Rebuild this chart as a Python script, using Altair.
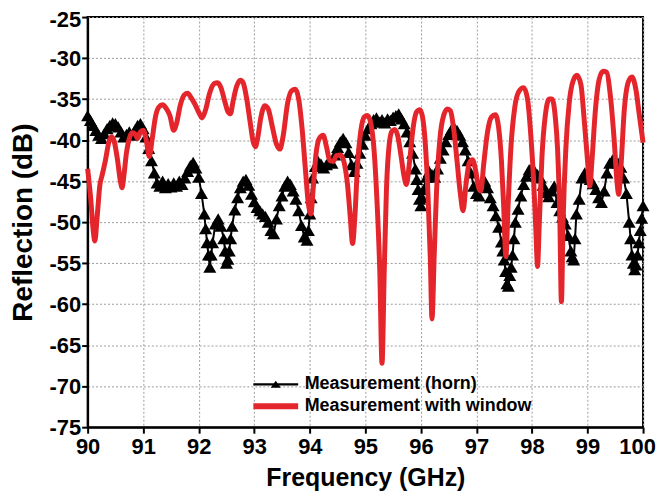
import altair as alt
import pandas as pd

# ---------------- data ----------------
horn_freq = [
    90.00, 90.05, 90.10, 90.15, 90.20, 90.25, 90.30, 90.35, 90.40, 90.45,
    90.50, 90.55, 90.60, 90.65, 90.70, 90.75, 90.80, 90.85, 90.90, 90.95,
    91.00, 91.05, 91.10, 91.15, 91.20, 91.25, 91.30, 91.35, 91.40, 91.45,
    91.50, 91.55, 91.60, 91.65, 91.70, 91.75, 91.80, 91.85, 91.90, 91.95,
    92.00, 92.05, 92.10, 92.15, 92.20, 92.25, 92.30, 92.35, 92.40, 92.45,
    92.50, 92.55, 92.60, 92.65, 92.70, 92.75, 92.80, 92.85, 92.90, 92.95,
    93.00, 93.05, 93.10, 93.15, 93.20, 93.25, 93.30, 93.35, 93.40, 93.45,
    93.50, 93.55, 93.60, 93.65, 93.70, 93.75, 93.80, 93.85, 93.90, 93.95,
    94.00, 94.05, 94.10, 94.15, 94.20, 94.25, 94.30, 94.35, 94.40, 94.45,
    94.50, 94.55, 94.60, 94.65, 94.70, 94.75, 94.80, 94.85, 94.90, 94.95,
    95.00, 95.05, 95.10, 95.15, 95.20, 95.25, 95.30, 95.35, 95.40, 95.45,
    95.50, 95.55, 95.60, 95.65, 95.70, 95.75, 95.80, 95.85, 95.90, 95.95,
    96.00, 96.05, 96.10, 96.15, 96.20, 96.25, 96.30, 96.35, 96.40, 96.45,
    96.50, 96.55, 96.60, 96.65, 96.70, 96.75, 96.80, 96.85, 96.90, 96.95,
    97.00, 97.05, 97.10, 97.15, 97.20, 97.25, 97.30, 97.35, 97.40, 97.45,
    97.50, 97.55, 97.60, 97.65, 97.70, 97.75, 97.80, 97.85, 97.90, 97.95,
    98.00, 98.05, 98.10, 98.15, 98.20, 98.25, 98.30, 98.35, 98.40, 98.45,
    98.50, 98.55, 98.60, 98.65, 98.70, 98.75, 98.80, 98.85, 98.90, 98.95,
    99.00, 99.05, 99.10, 99.15, 99.20, 99.25, 99.30, 99.35, 99.40, 99.45,
    99.50, 99.55, 99.60, 99.65, 99.70, 99.75, 99.80, 99.85, 99.90, 99.95,
    100.00,
]
horn_refl = [
    -37.0, -37.6, -38.2, -38.8, -39.4, -39.8, -39.2, -38.6, -38.2, -37.9,
    -38.0, -38.4, -39.0, -39.6, -39.3, -39.0, -39.4, -38.8, -38.2, -38.0,
    -38.6, -39.6, -41.0, -42.5, -44.0, -45.2, -45.6, -45.0, -45.8, -45.3,
    -45.7, -45.2, -45.6, -45.0, -45.4, -44.6, -43.8, -43.1, -42.7, -43.4,
    -44.5, -46.5, -49.0, -52.5, -55.5, -52.5, -50.2, -49.6, -50.5, -52.0,
    -55.0, -53.5, -50.5, -48.5, -47.0, -45.8, -45.0, -44.8, -45.5, -46.6,
    -47.5, -48.2, -48.6, -49.0, -49.3, -50.0, -51.0, -51.4, -49.6, -48.0,
    -46.8, -45.6, -45.0, -45.4, -46.2, -47.2, -48.6, -50.4, -51.8, -52.2,
    -49.0, -44.6, -43.2, -42.6, -42.9, -43.4, -43.0, -42.6, -42.8, -41.8,
    -40.9, -40.2, -39.8, -40.3, -41.5, -43.0, -43.8, -42.8, -41.6, -40.5,
    -39.4, -38.6, -38.0, -37.5, -37.3, -37.8, -37.5, -37.9, -37.4, -37.6,
    -37.2, -37.0, -36.8, -37.4, -38.0, -39.0, -40.2, -41.6, -43.5, -46.0,
    -48.0, -46.0, -44.5, -43.8, -44.2, -44.5, -43.5, -42.2, -41.2, -40.2,
    -39.3, -38.7, -38.5, -38.8, -39.4, -40.2, -41.2, -42.5, -44.0, -45.6,
    -46.5, -46.8, -45.6, -45.0, -45.8, -47.0, -48.0, -49.2, -50.6, -52.4,
    -54.6, -57.5, -56.5, -54.0, -50.0, -48.4, -46.8, -45.4, -44.4, -43.6,
    -43.4, -43.8, -44.2, -44.6, -45.5, -46.4, -46.9, -46.2, -45.6, -47.6,
    -48.6, -49.4, -50.2, -51.6, -53.5, -54.6, -49.0, -47.2, -44.6, -44.0,
    -44.4, -44.8, -45.3, -46.0, -47.0, -47.6, -46.2, -44.0, -42.8, -42.4,
    -42.6, -42.8, -43.3, -44.6, -46.5, -50.0, -54.0, -55.8, -54.0, -51.0,
    -48.0,
]
# extra horn samples read where the reference stacks triangles on steep slopes
horn_extra_freq = [
    92.125, 92.175, 92.225, 92.475, 92.525, 92.575, 93.975, 94.025,
    95.925, 95.975, 96.025, 97.475, 97.525, 97.575, 97.625, 97.675,
    98.725, 98.775, 99.775, 99.825, 99.875, 99.925, 99.975,
]
horn_extra_refl = [
    -50.8, -54.0, -54.0, -53.5, -54.5, -52.0, -51.0, -47.0,
    -44.8, -47.2, -47.0, -53.5, -56.0, -57.8, -55.5, -52.0,
    -54.2, -52.0, -52.0, -55.0, -55.2, -52.5, -49.5,
]

window_freq = [
    90.00, 90.06, 90.10, 90.13, 90.17, 90.22, 90.26, 90.32, 90.38, 90.43,
    90.48, 90.54, 90.59, 90.62, 90.65, 90.70, 90.75, 90.80, 90.85, 90.90,
    90.95, 91.00, 91.05, 91.11, 91.16, 91.22, 91.28, 91.35, 91.42, 91.48,
    91.55, 91.60, 91.67, 91.74, 91.80, 91.86, 91.93, 92.00, 92.06, 92.12,
    92.20, 92.28, 92.34, 92.40, 92.47, 92.53, 92.57, 92.62, 92.68, 92.75,
    92.80, 92.86, 92.93, 92.98, 93.02, 93.06, 93.12, 93.19, 93.25, 93.33,
    93.40, 93.46, 93.52, 93.60, 93.67, 93.74, 93.80, 93.86, 93.92, 93.97,
    94.02, 94.06, 94.11, 94.17, 94.24, 94.30, 94.36, 94.42, 94.48, 94.56,
    94.62, 94.68, 94.73, 94.77, 94.81, 94.86, 94.92, 94.98, 95.04, 95.10,
    95.16, 95.21, 95.26, 95.30, 95.34, 95.38, 95.43, 95.48, 95.53, 95.58,
    95.64, 95.70, 95.74, 95.79, 95.86, 95.92, 95.98, 96.03, 96.08, 96.13,
    96.17, 96.20, 96.24, 96.28, 96.34, 96.41, 96.48, 96.53, 96.59, 96.65,
    96.71, 96.76, 96.81, 96.87, 96.93, 96.98, 97.04, 97.08, 97.13, 97.20,
    97.27, 97.34, 97.40, 97.45, 97.49, 97.53, 97.57, 97.62, 97.69, 97.77,
    97.85, 97.92, 97.98, 98.03, 98.07, 98.10, 98.13, 98.18, 98.24, 98.31,
    98.36, 98.42, 98.46, 98.50, 98.53, 98.56, 98.61, 98.67, 98.74, 98.81,
    98.88, 98.94, 99.00, 99.04, 99.08, 99.14, 99.21, 99.28, 99.34, 99.41,
    99.48, 99.53, 99.56, 99.60, 99.66, 99.73, 99.80, 99.87, 99.93, 100.00,
]
window_refl = [
    -43.5, -47.5, -51.0, -52.3, -49.5, -45.5, -44.3, -42.5, -40.3, -39.6,
    -40.2, -42.5, -45.0, -45.8, -44.5, -41.5, -39.8, -39.1, -39.2, -39.8,
    -39.0, -38.8, -39.8, -42.0, -40.0, -37.2, -36.0, -35.7, -36.2, -37.0,
    -38.8, -38.0, -35.7, -34.5, -34.3, -34.8, -35.6, -36.6, -37.3, -36.4,
    -34.2, -33.1, -33.0, -33.6, -35.3, -36.6, -36.8, -35.2, -33.5, -32.7,
    -33.0, -34.8, -38.0, -40.2, -40.8, -39.8, -37.2, -35.8, -36.2, -38.5,
    -40.5, -41.1, -39.5, -35.5, -34.0, -33.8, -35.0, -38.5, -43.5, -47.5,
    -49.0, -46.0, -41.8, -39.8, -39.4, -40.8, -42.5, -42.6, -41.9, -41.8,
    -42.8, -45.5, -49.5, -52.6, -49.5, -43.0, -38.8, -37.2, -37.0, -38.0,
    -41.5, -47.5, -56.0, -67.2, -56.0, -46.0, -40.5, -38.9, -38.7, -39.4,
    -41.8, -44.5, -45.4, -43.0, -38.5, -36.6, -36.3, -37.2, -40.5, -47.0,
    -54.5, -61.8, -54.0, -46.5, -40.0, -37.0, -36.2, -36.4, -38.6, -42.5,
    -46.5, -48.6, -45.5, -42.8, -42.4, -43.5, -45.8, -46.2, -43.0, -39.0,
    -37.2, -36.9, -38.5, -42.5, -48.0, -54.2, -48.0, -41.0, -36.0, -34.0,
    -33.6, -35.0, -39.5, -45.0, -51.0, -55.4, -50.5, -42.0, -37.0, -35.0,
    -35.0, -37.2, -41.0, -49.0, -59.7, -50.0, -41.0, -35.5, -32.8, -32.1,
    -33.2, -37.5, -42.5, -45.6, -42.5, -36.5, -32.6, -31.6, -31.7, -34.5,
    -40.0, -45.0, -46.6, -43.5, -36.5, -33.0, -32.3, -33.8, -36.8, -40.3,
]

series_names = ["Measurement (horn)", "Measurement with window"]
x_ticks = [90, 91, 92, 93, 94, 95, 96, 97, 98, 99, 100]
y_ticks = [-75, -70, -65, -60, -55, -50, -45, -40, -35, -30, -25]

# ---------------- styling ----------------
RED = "#e4262c"
FONT = "Liberation Sans"
HORN_SYMBOL = "M-5,-0.15H1V0.15H-5Z M-2.67,0.45L-2,-0.5L-1.33,0.45Z"
WINDOW_SYMBOL = "M-5,-0.4H1V0.4H-5Z"

horn = pd.DataFrame({
    "freq": horn_freq + horn_extra_freq,
    "refl": horn_refl + horn_extra_refl,
}).sort_values("freq")
window = pd.DataFrame({"freq": window_freq, "refl": window_refl})
legend_df = pd.DataFrame({"series": series_names})

x_axis = alt.Axis(
    values=x_ticks, title="Frequency (GHz)", labelFlush=False, labelOverlap=False,
    labelFont=FONT, labelFontSize=22, labelFontWeight="bold", labelColor="black",
    labelPadding=3,
    labelOffset={"condition": {"test": "datum.value == 100", "value": -6}, "value": 0},
    titleFont=FONT, titleFontSize=25, titleFontWeight="bold", titleColor="black",
    titlePadding=9,
    tickColor="black", tickSize=6, tickWidth=2, domainColor="black", domainWidth=2,
    grid=True, gridColor="#9c9c9c", gridDash=[2, 2], gridWidth=1,
)
y_axis = alt.Axis(
    values=y_ticks, title="Reflection (dB)", labelFlush=False, labelOverlap=False,
    labelExpr="datum.value + ''",
    labelFont=FONT, labelFontSize=22, labelFontWeight="bold", labelColor="black",
    labelPadding=1,
    labelOffset={"condition": {"test": "datum.value == -25", "value": 2}, "value": 0},
    titleFont=FONT, titleFontSize=28, titleFontWeight="bold", titleColor="black",
    titlePadding=12,
    tickColor="black", tickSize=6, tickWidth=2, domainColor="black", domainWidth=2,
    grid=True, gridColor="#9c9c9c", gridDash=[2, 2], gridWidth=1,
)

x_enc = alt.X("freq:Q", scale=alt.Scale(domain=[90, 100], nice=False, zero=False), axis=x_axis)
y_enc = alt.Y("refl:Q", scale=alt.Scale(domain=[-75, -25], nice=False, zero=False), axis=y_axis)

horn_line = alt.Chart(horn).mark_line(color="black", strokeWidth=2).encode(x=x_enc, y=y_enc)
horn_pts = alt.Chart(horn).mark_point(
    shape="triangle-up", filled=True, color="black", size=170, opacity=1
).encode(x=x_enc, y=y_enc)
window_line = alt.Chart(window).mark_line(
    color=RED, strokeWidth=5, interpolate="monotone"
).encode(x=x_enc, y=y_enc)

leg = alt.Legend(
    title=None, orient="none", legendX=195, legendY=360,
    labelFont=FONT, labelFontSize=18, labelFontWeight="bold", labelColor="black",
    labelLimit=0,
    symbolSize=225, symbolStrokeWidth=0, symbolOpacity=1,
    labelOffset=5, rowPadding=4, padding=0,
)
legend_layer = alt.Chart(legend_df).transform_filter("false").mark_point(
    filled=True, opacity=1
).encode(
    color=alt.Color("series:N", scale=alt.Scale(domain=series_names, range=["black", RED]), legend=leg),
    shape=alt.Shape("series:N", scale=alt.Scale(domain=series_names, range=[HORN_SYMBOL, WINDOW_SYMBOL]), legend=leg),
)

chart = alt.layer(horn_line, horn_pts, window_line, legend_layer).properties(
    width=558, height=412,
    autosize=alt.AutoSizeParams(type="none"),
    padding={"left": 80, "top": 8, "right": 14, "bottom": 66},
).configure_view(stroke="black", strokeWidth=2)

chart.save("out.html", embed_options={"renderer": "svg", "actions": False})
